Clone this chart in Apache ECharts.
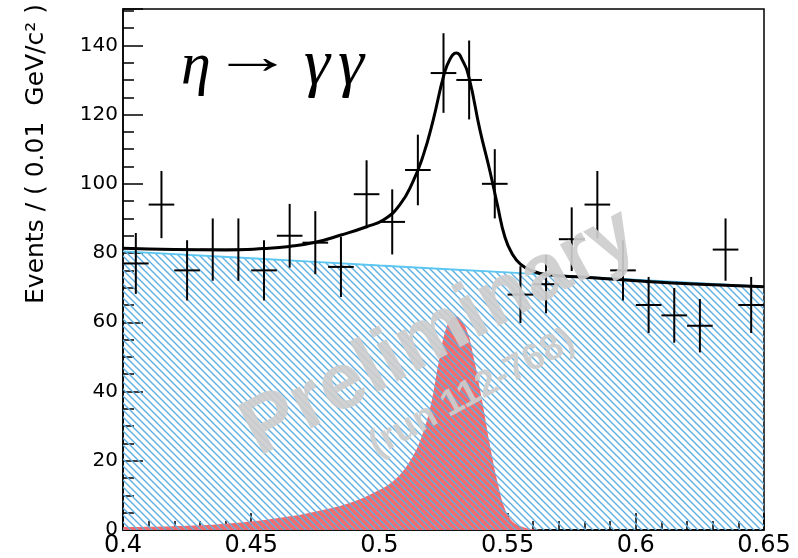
<!DOCTYPE html>
<html>
<head>
<meta charset="utf-8">
<script src="https://cdn.jsdelivr.net/npm/echarts@6/dist/echarts.min.js"></script>
<style>
html,body{margin:0;padding:0;background:#fff;}
#c{width:798px;height:558px;}
</style>
</head>
<body>
<div id="c"></div>
<script>
// ---- data ----
var binCenters = [0.405,0.415,0.425,0.435,0.445,0.455,0.465,0.475,0.485,0.495,0.505,0.515,0.525,0.535,0.545,0.555,0.565,0.575,0.585,0.595,0.605,0.615,0.625,0.635,0.645];
var counts = [77,94,75,81,81,75,85,83,76,97,89,104,132,130,100,68,71,84,94,75,65,62,59,81,65];
var errors = [8.8,9.7,8.7,9.0,9.0,8.7,9.2,9.1,8.7,9.8,9.4,10.2,11.5,11.4,10.0,8.2,8.4,9.2,9.7,8.7,8.1,7.9,7.7,9.0,8.1];
var binHalfWidth = 0.005;

var bgX = [0.40,0.45,0.50,0.55,0.60,0.65];
var bgY = [80.5,78.5,76.4,74.4,72.3,70.3];

var sigX = [0.400,0.425,0.445,0.460,0.475,0.488,0.498,0.506,0.512,0.516,0.520,0.523,0.5255,0.528,0.530,0.532,0.5345,0.537,0.540,0.543,0.546,0.549,0.552,0.556,0.560,0.565,0.650];
var sigY = [0.8,1.2,2.1,3.4,5.3,7.7,10.8,14.5,20.0,26.0,36.0,48.0,57.0,61.0,61.7,60.5,56.8,49.0,37.6,25.0,14.0,6.0,2.4,0.9,0.2,0,0];

var totX = [0.400,0.420,0.440,0.455,0.465,0.475,0.485,0.495,0.502,0.508,0.513,0.517,0.521,0.525,0.5275,0.530,0.5325,0.535,0.5392,0.543,0.546,0.549,0.552,0.555,0.559,0.565,0.580,0.600,0.625,0.650];
var totY = [81.4,81.0,80.9,81.3,81.9,83.1,85.2,87.6,89.8,94.0,100.5,108.0,118.5,131.0,136.0,137.8,135.5,130.5,115.6,104.0,94.0,84.5,79.5,76.8,75.0,73.8,73.0,72.0,71.0,70.3];

var xTicks = [0.4,0.45,0.5,0.55,0.6,0.65];
var yTicks = [0,20,40,60,80,100,120,140];

function zip(a,b){ return a.map(function(v,i){return [v,b[i]];}); }

// hatch pattern
var pc = document.createElement('canvas');
var P = 7;
pc.width = P; pc.height = P;
var g = pc.getContext('2d');
g.strokeStyle = '#5eafe2';
g.lineWidth = 1.4;
g.beginPath();
g.moveTo(-1,-1); g.lineTo(P+1,P+1);
g.moveTo(-1,P-1); g.lineTo(1,P+1);
g.moveTo(P-1,-1); g.lineTo(P+1,1);
g.stroke();

var chart = echarts.init(document.getElementById('c'), null, {renderer:'canvas'});
var FONT = 'DejaVu Sans';

var option = {
  animation:false,
  backgroundColor:'#fff',
  grid:{left:123,right:34,top:9,bottom:28,show:true,borderColor:'#000',borderWidth:1.5,backgroundColor:'transparent'},
  xAxis:{
    type:'value',min:0.4,max:0.65,interval:0.05,
    axisLine:{lineStyle:{color:'#000',width:1.5}},
    axisTick:{inside:true,length:17,lineStyle:{color:'#000',width:1.5}},
    minorTick:{show:true,splitNumber:5,length:9,lineStyle:{color:'#000',width:1.5}},
    splitLine:{show:false},
    axisLabel:{color:'#000',fontFamily:FONT,fontSize:24,margin:4,
      formatter:function(v){ var s = xTicks.filter(function(t){return Math.abs(t-v)<1e-9;}); return s.length? String(+s[0].toFixed(2)) : ''; }}
  },
  yAxis:{
    type:'value',min:0,max:150.5,interval:20,
    axisLine:{lineStyle:{color:'#000',width:1.5}},
    axisTick:{inside:true,length:20,lineStyle:{color:'#000',width:1.5}},
    minorTick:{show:true,splitNumber:4,length:11,lineStyle:{color:'#000',width:1.5}},
    splitLine:{show:false},
    axisLabel:{color:'#000',fontFamily:FONT,fontSize:20,margin:5,
      formatter:function(v){ return yTicks.indexOf(v)>=0 ? String(v) : ''; }}
  },
  series:[
    {
      type:'line', name:'signal', data:zip(sigX,sigY), smooth:0.4,
      symbol:'none', lineStyle:{width:0}, areaStyle:{color:'#f36b6b',opacity:1}, z:1
    },
    {
      type:'line', name:'background', data:zip(bgX,bgY), smooth:true,
      symbol:'none', lineStyle:{width:1.8,color:'#5cc6f2'},
      areaStyle:{color:{image:pc,repeat:'repeat'},opacity:1}, z:2
    },
    {
      type:'line', name:'total', data:zip(totX,totY), smooth:0.5,
      symbol:'none', lineStyle:{width:3,color:'#000'}, z:4
    },
    {
      type:'custom', name:'data', z:5,
      data:binCenters.map(function(x,i){return [x,counts[i],errors[i]];}),
      renderItem:function(params,api){
        var x=api.value(0), y=api.value(1), e=api.value(2);
        var l=api.coord([x-binHalfWidth,y]), r=api.coord([x+binHalfWidth,y]);
        var t=api.coord([x,y+e]), b=api.coord([x,y-e]);
        var st={stroke:'#000',lineWidth:2};
        return {type:'group',children:[
          {type:'line',shape:{x1:l[0],y1:l[1],x2:r[0],y2:r[1]},style:st},
          {type:'line',shape:{x1:t[0],y1:t[1],x2:b[0],y2:b[1]},style:st}
        ]};
      }
    }
  ],
  graphic:[
    {type:'text', x:36, y:4, rotation:Math.PI/2, z:10,
     style:{text:'Events / ( 0.01  GeV/c² )', font:'25px "DejaVu Sans"', fill:'#000', textAlign:'right', textVerticalAlign:'middle'}},
    {type:'text', x:181, y:67, z:10,
     style:{text:'η', font:'italic 60px "Liberation Serif"', fill:'#000', textAlign:'left', textVerticalAlign:'middle'}},
    {type:'text', x:212, y:60, scaleX:1.63, z:10,
     style:{text:'→', font:'50px "Liberation Serif"', fill:'#000', textAlign:'left', textVerticalAlign:'middle'}},
    {type:'text', x:304, y:67, z:10,
     style:{text:'γ', font:'italic 66px "Liberation Serif"', fill:'#000', textAlign:'left', textVerticalAlign:'middle'}},
    {type:'text', x:338, y:67, z:10,
     style:{text:'γ', font:'italic 66px "Liberation Serif"', fill:'#000', textAlign:'left', textVerticalAlign:'middle'}},
    {type:'text', x:440, y:333, rotation:0.50, z:20,
     style:{text:'Preliminary', font:'bold 80px "Liberation Sans"', fill:'rgba(205,205,205,0.92)', textAlign:'center', textVerticalAlign:'middle'}},
    {type:'text', x:472, y:393, rotation:0.50, z:20,
     style:{text:'(run 112-768)', font:'bold 37px "Liberation Sans"', fill:'rgba(205,205,205,0.92)', textAlign:'center', textVerticalAlign:'middle'}}
  ]
};
chart.setOption(option);
</script>
</body>
</html>
